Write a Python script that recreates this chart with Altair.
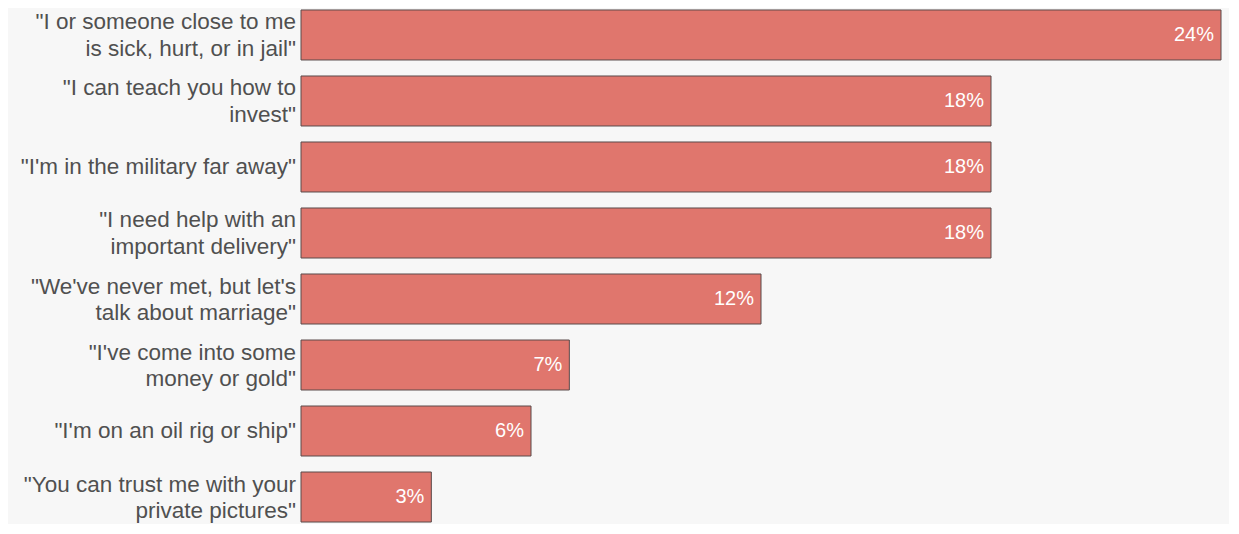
import altair as alt
import pandas as pd

categories = [
    '"I or someone close to me|is sick, hurt, or in jail"',
    '"I can teach you how to|invest"',
    '"I\'m in the military far away"',
    '"I need help with an|important delivery"',
    '"We\'ve never met, but let\'s|talk about marriage"',
    '"I\'ve come into some|money or gold"',
    '"I\'m on an oil rig or ship"',
    '"You can trust me with your|private pictures"',
]
values = [24.0, 18.0, 18.0, 18.0, 12.0, 7.0, 6.0, 3.4]
value_labels = ["24%", "18%", "18%", "18%", "12%", "7%", "6%", "3%"]

df = pd.DataFrame({"cat": categories, "val": values, "lab": value_labels})
order = categories
FONT = "Arial, Liberation Sans, sans-serif"

y = alt.Y("cat:N", sort=order, axis=None,
          scale=alt.Scale(paddingInner=0.2424, paddingOuter=0.03))
x = alt.X("val:Q", axis=None, scale=alt.Scale(domain=[0, 24], nice=False, zero=True))

base = alt.Chart(df)
bars = base.mark_bar(color="#e0766d", stroke="#5a4a4a", strokeWidth=1).encode(x=x, y=y)
vals = base.mark_text(align="right", baseline="middle", dx=-7,
                      color="white", fontSize=20, font=FONT).encode(
    x=x, y=y, text="lab:N"
)
cats_single = base.transform_filter("indexof(datum.cat, '|') < 0").mark_text(
    align="right", baseline="middle", dx=-5, dy=0, lineBreak="|",
    lineHeight=26.5, color="#505050", fontSize=22.5, font=FONT).encode(
    x=alt.value(0), y=y, text="cat:N"
)
cats_double = base.transform_filter("indexof(datum.cat, '|') >= 0").mark_text(
    align="right", baseline="middle", dx=-5, dy=-12.5, lineBreak="|",
    lineHeight=26.5, color="#505050", fontSize=22.5, font=FONT).encode(
    x=alt.value(0), y=y, text="cat:N"
)

chart = alt.layer(bars, vals, cats_single, cats_double).properties(
    width=920, height=516,
    autosize=alt.AutoSizeParams(type="none"),
    padding={"left": 293, "top": 0, "right": 8, "bottom": 0},
    background="#f7f7f7",
).configure_view(stroke=None)

chart.save("out.html", embed_options={"renderer": "svg", "actions": False})
